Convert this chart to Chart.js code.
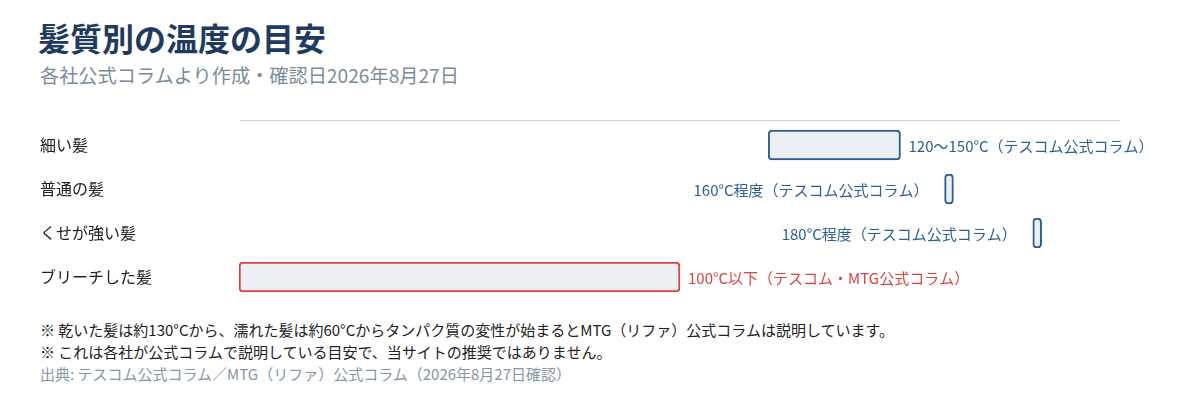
<!DOCTYPE html>
<html lang="ja">
<head>
  <meta charset="UTF-8" />
  <title>髪質別の温度の目安</title>
  <script src="https://cdn.jsdelivr.net/npm/chart.js"></script>
  <style>
    body { margin: 0; background: #fff; font-family: "Noto Sans CJK JP", "Noto Sans", sans-serif; }
    .head { padding: 16px 0 0 38px; }
    h1 { margin: 0; font-size: 32px; line-height: 42px; font-weight: 700; color: #1f3a60; }
    .sub { margin: 4px 0 0 2px; font-size: 19.2px; line-height: 26px; color: #7b8b9b; }
    .box { position: absolute; left: 0; top: 110px; width: 1200px; height: 200px; }
    .notes { position: absolute; left: 40px; top: 319px; font-size: 15px; line-height: 22px; color: #222; }
    .notes .src { color: #8496a8; }
  </style>
</head>
<body>
  <div class="head">
    <h1>髪質別の温度の目安</h1>
    <div class="sub">各社公式コラムより作成・確認日2026年8月27日</div>
  </div>

  <div class="box"><canvas id="grafico"></canvas></div>

  <div class="notes">
    <div>※ 乾いた髪は約130°Cから、濡れた髪は約60°Cからタンパク質の変性が始まるとMTG（リファ）公式コラムは説明しています。</div>
    <div>※ これは各社が公式コラムで説明している目安で、当サイトの推奨ではありません。</div>
    <div class="src">出典: テスコム公式コラム／MTG（リファ）公式コラム（2026年8月27日確認）</div>
  </div>

  <script>
    // 髪質ごとの温度範囲（°C）
    const categorias = ["細い髪", "普通の髪", "くせが強い髪", "ブリーチした髪"];
    const inicio = [120, 160, 180, 0];
    const fim = [150, 162, 182, 100];
    const rotulos = [
      "120〜150°C（テスコム公式コラム）",
      "160°C程度（テスコム公式コラム）",
      "180°C程度（テスコム公式コラム）",
      "100°C以下（テスコム・MTG公式コラム）"
    ];
    const alerta = [false, false, false, true];

    const azul = "#2c5f98";
    const vermelho = "#d64541";

    // rótulos ao lado das barras
    const rotuloBarras = {
      id: "rotuloBarras",
      afterDatasetsDraw(chart) {
        const ctx = chart.ctx;
        const area = chart.chartArea;
        const meta = chart.getDatasetMeta(0);
        ctx.save();
        // linha superior
        ctx.strokeStyle = "#cdd3dc";
        ctx.lineWidth = 1;
        ctx.beginPath();
        ctx.moveTo(area.left + 1, area.top - 2.5);
        ctx.lineTo(area.right - 1, area.top - 2.5);
        ctx.stroke();

        ctx.font = "15px 'Noto Sans CJK JP', sans-serif";
        ctx.textBaseline = "middle";
        meta.data.forEach((bar, i) => {
          const texto = rotulos[i];
          const w = ctx.measureText(texto).width;
          const dir = Math.max(bar.x, bar.base);
          const esq = Math.min(bar.x, bar.base);
          ctx.fillStyle = alerta[i] ? vermelho : azul;
          if (dir + 8 + w > area.right + 40) {
            ctx.textAlign = "right";
            ctx.fillText(texto, esq - 16, bar.y + 1);
          } else {
            ctx.textAlign = "left";
            ctx.fillText(texto, dir + 8, bar.y + 1);
          }
        });
        ctx.restore();
      }
    };

    new Chart(document.getElementById("grafico"), {
      type: "bar",
      data: {
        labels: categorias,
        datasets: [{
          data: categorias.map((c, i) => [inicio[i], fim[i]]),
          backgroundColor: "#eceff3",
          borderColor: alerta.map(a => a ? vermelho : azul),
          borderWidth: 2,
          borderRadius: 4,
          borderSkipped: false,
          barThickness: 30
        }]
      },
      options: {
        indexAxis: "y",
        responsive: true,
        maintainAspectRatio: false,
        animation: false,
        layout: { padding: { left: 40, right: 79, top: 13, bottom: 11 } },
        plugins: { legend: { display: false }, tooltip: { enabled: false } },
        scales: {
          x: {
            min: 0, max: 200,
            display: false
          },
          y: {
            grid: { display: false },
            border: { display: false },
            ticks: {
              crossAlign: "far",
              padding: 0,
              color: "#222",
              font: { family: "'Noto Sans CJK JP', sans-serif", size: 16 }
            },
            afterFit(scale) { scale.width = 199; }
          }
        }
      },
      plugins: [rotuloBarras]
    });
  </script>
</body>
</html>
